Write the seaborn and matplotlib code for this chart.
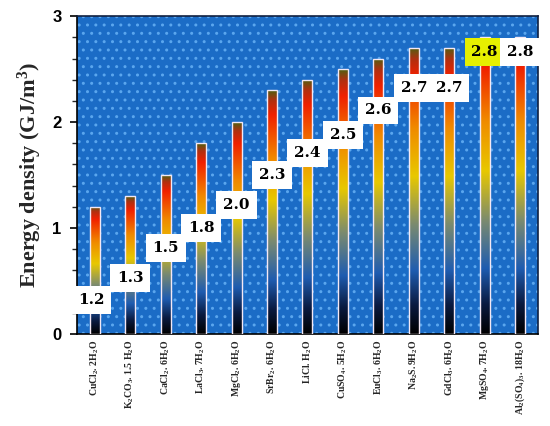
import numpy as np
import pandas as pd
import matplotlib
matplotlib.use("Agg")
import matplotlib.pyplot as plt
from matplotlib.colors import LinearSegmentedColormap
from matplotlib.ticker import MultipleLocator
import seaborn as sns

categories = [
    "CuCl$_2$. 2H$_2$O", "K$_2$CO$_3$. 1.5 H$_2$O", "CaCl$_2$. 6H$_2$O",
    "LaCl$_3$. 7H$_2$O", "MgCl$_2$. 6H$_2$O", "SrBr$_2$. 6H$_2$O",
    "LiCl. H$_2$O", "CuSO$_4$. 5H$_2$O", "EuCl$_3$. 6H$_2$O",
    "Na$_2$S. 9H$_2$O", "GdCl$_3$. 6H$_2$O", "MgSO$_4$. 7H$_2$O",
    "Al$_2$(SO$_4$)$_3$. 18H$_2$O",
]
values = [1.2, 1.3, 1.5, 1.8, 2.0, 2.3, 2.4, 2.5, 2.6, 2.7, 2.7, 2.8, 2.8]
value_labels = ["1.2", "1.3", "1.5", "1.8", "2.0", "2.3", "2.4", "2.5",
                "2.6", "2.7", "2.7", "2.8", "2.8"]

# label placement (layout only)
label_y = [0.32, 0.53, 0.81, 1.0, 1.22, 1.5, 1.71, 1.88, 2.11, 2.32, 2.32, 2.66, 2.66]
label_dx = [-0.1, 0, 0, 0, 0, 0, 0, 0, 0, 0, 0, 0, 0]
label_bg = ["white"] * 11 + ["#e6f000", "white"]

sns.set_theme(style="white")
plt.rcParams["mathtext.default"] = "regular"

df = pd.DataFrame({"cat": categories, "val": values})

fig = plt.figure(figsize=(5.5, 4.26), dpi=100)
ax = fig.add_axes([0.14, 0.216, 0.838, 0.746])

bg = "#1b6cc6"
ax.set_facecolor(bg)
ax.set_xlim(-0.5, 12.5)
ax.set_ylim(0, 3)

# dotted background pattern
bgp = ax.add_patch(plt.Rectangle((0, 0), 1, 1, transform=ax.transAxes,
                                 facecolor="none", edgecolor="#5aa6ee",
                                 hatch="..", linewidth=0, zorder=0.5))

sns.barplot(data=df, x="cat", y="val", width=0.28, ax=ax,
            facecolor="none", edgecolor="#f4e8f4", linewidth=1.0, zorder=3)

cmap = LinearSegmentedColormap.from_list("grad", [
    (0.00, "#000000"), (0.10, "#0a1a40"), (0.22, "#1f5cb0"),
    (0.38, "#7a8a70"), (0.55, "#e8c800"), (0.72, "#f08a00"),
    (0.90, "#f02000"), (0.96, "#b03010"), (1.00, "#506010"),
])
grad = np.linspace(0, 1, 256).reshape(-1, 1)
for p in ax.patches:
    if not hasattr(p, "get_height") or p is bgp:
        continue
    x0, y0 = p.get_x(), p.get_y()
    w, h = p.get_width(), p.get_height()
    im = ax.imshow(grad, cmap=cmap, origin="lower", aspect="auto",
                   extent=[x0, x0 + w, y0, y0 + h], zorder=2,
                   interpolation="bilinear")
    im.set_clip_path(p)

ax.set_xlim(-0.5, 12.5)
ax.set_ylim(0, 3)

for i, (lab, ly) in enumerate(zip(value_labels, label_y)):
    ax.text(i + label_dx[i], ly, lab, ha="center", va="center",
            fontsize=11, fontweight="bold", family="DejaVu Serif",
            color="black", zorder=5,
            bbox=dict(boxstyle="square,pad=0.45", facecolor=label_bg[i],
                      edgecolor="none"))

ax.set_xlabel("")
ax.set_ylabel("Energy density (GJ/m$^3$)", fontsize=16, fontweight="bold",
              family="Liberation Serif", labelpad=6)
ax.yaxis.set_major_locator(MultipleLocator(1))
ax.yaxis.set_minor_locator(MultipleLocator(0.2))
ax.tick_params(axis="y", which="major", length=5, width=1.2, direction="out",
               left=True, labelsize=12, pad=6, colors="black")
ax.tick_params(axis="y", which="minor", length=3.5, width=1.0, direction="out", left=True)
for t in ax.get_yticklabels():
    t.set_fontweight("bold")
    t.set_family("Liberation Sans")
ax.tick_params(axis="x", length=0, pad=4)
ax.set_xticks(range(len(categories)))
ax.set_xticklabels(categories, rotation=90, fontsize=7, fontweight="bold",
                   family="Liberation Serif", va="top", ha="center")
for s in ax.spines.values():
    s.set_color("#102040")
    s.set_linewidth(1.2)
ax.spines["left"].set_color("black")
ax.spines["bottom"].set_color("black")

fig.savefig("out.png", dpi=100, facecolor="white")
